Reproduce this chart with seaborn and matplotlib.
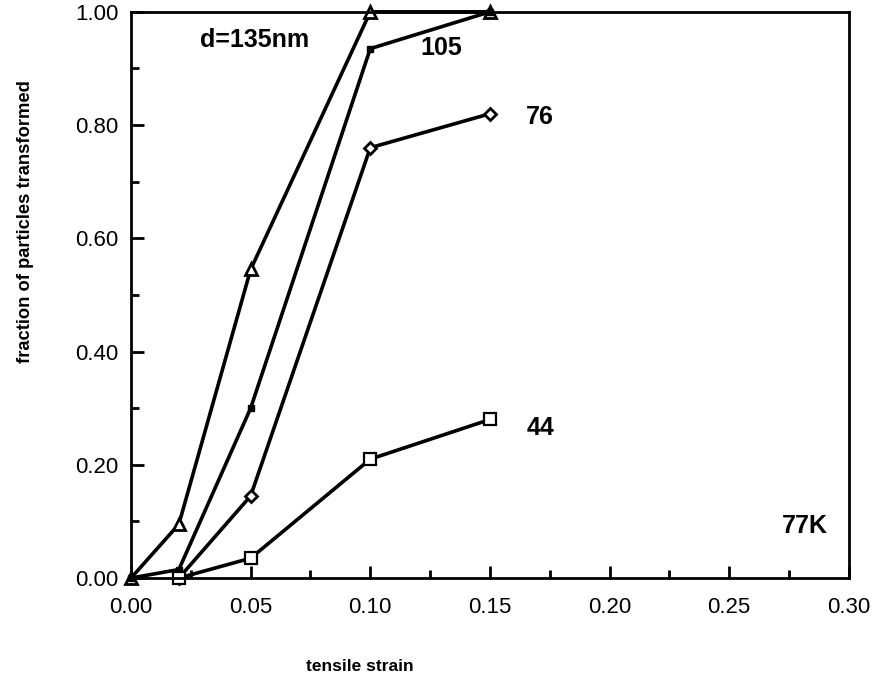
import matplotlib
matplotlib.use("Agg")
import matplotlib.pyplot as plt
import seaborn as sns
import pandas as pd
from matplotlib.ticker import MultipleLocator

# Data
x_135 = [0.00, 0.02, 0.05, 0.10, 0.15]
y_135 = [0.00, 0.095, 0.545, 1.00, 1.00]
x_105 = [0.00, 0.02, 0.05, 0.10, 0.15]
y_105 = [0.00, 0.015, 0.30, 0.935, 1.00]
x_76 = [0.02, 0.05, 0.10, 0.15]
y_76 = [0.00, 0.145, 0.76, 0.82]
x_44 = [0.02, 0.05, 0.10, 0.15]
y_44 = [0.00, 0.035, 0.21, 0.28]

x_ticks = [0.00, 0.05, 0.10, 0.15, 0.20, 0.25, 0.30]
y_ticks = [0.00, 0.20, 0.40, 0.60, 0.80, 1.00]

sns.set_style("ticks")
plt.rcParams['font.family'] = ['Liberation Sans', 'DejaVu Sans']
for k in ['text.color', 'axes.labelcolor', 'xtick.color', 'ytick.color', 'axes.edgecolor']:
    plt.rcParams[k] = 'black'

fig = plt.figure(figsize=(8.87, 6.96), dpi=100)
ax = fig.add_axes([0.1477, 0.1695, 0.957 - 0.1477, 0.983 - 0.1695])

series = [
    (x_135, y_135, dict(marker='^', markersize=8, markerfacecolor='white', markeredgewidth=2)),
    (x_105, y_105, dict(marker='s', markersize=5, markerfacecolor='black', markeredgewidth=1)),
    (x_76, y_76, dict(marker='D', markersize=6.5, markerfacecolor='white', markeredgewidth=2)),
    (x_44, y_44, dict(marker='s', markersize=8.5, markerfacecolor='white', markeredgewidth=1.6)),
]
for xs, ys, mk in series:
    df = pd.DataFrame({"x": xs, "y": ys})
    sns.lineplot(data=df, x="x", y="y", ax=ax, color='black', linewidth=2.6,
                 markeredgecolor='black', clip_on=False, **mk)

ax.set_xlim(0, 0.30)
ax.set_ylim(0, 1.00)
ax.set_xticks(x_ticks)
ax.set_xticklabels([f"{v:.2f}" for v in x_ticks])
ax.set_yticks(y_ticks)
ax.set_yticklabels([f"{v:.2f}" for v in y_ticks])
ax.xaxis.set_minor_locator(MultipleLocator(0.025))
ax.yaxis.set_minor_locator(MultipleLocator(0.10))
ax.tick_params(which='major', direction='in', length=9, width=2, labelsize=16)
ax.tick_params(axis='x', which='major', pad=14)
ax.tick_params(axis='y', which='major', pad=9)
ax.tick_params(which='minor', direction='in', length=6, width=2)
for s in ax.spines.values():
    s.set_linewidth(2)
    s.set_visible(True)

ax.set_xlabel("tensile strain", fontsize=12.5, fontweight='bold')
ax.set_ylabel("fraction of particles transformed", fontsize=13.2, fontweight='bold')
ax.xaxis.set_label_coords(0.319, -0.143)
ax.yaxis.set_label_coords(-0.1345, 0.63)

ann = dict(fontsize=18, fontweight='bold', ha='center', va='center')
ax.text(0.0518, 0.95, "d=135nm", **ann)
ax.text(0.1295, 0.936, "105", **ann)
ax.text(0.171, 0.814, "76", **ann)
ax.text(0.171, 0.265, "44", **ann)
ax.text(0.2816, 0.092, "77K", **ann)

fig.savefig("out.png", dpi=100)
